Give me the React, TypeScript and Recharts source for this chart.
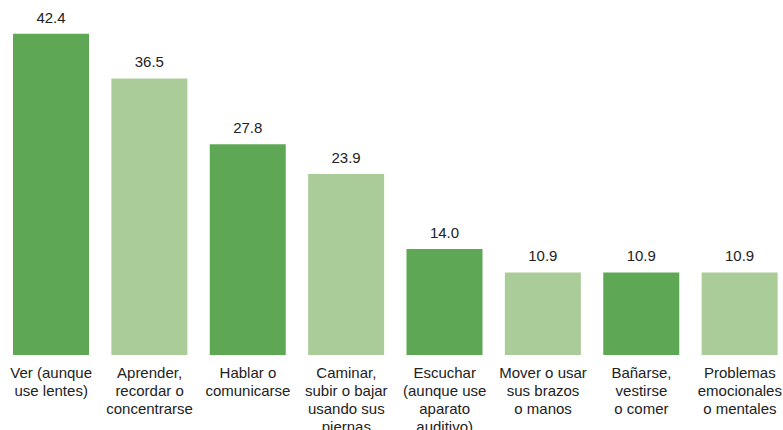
import React from "react";
import { BarChart, Bar, XAxis, YAxis, Cell, LabelList } from "recharts";

const categories: string[] = [
  "Ver (aunque\nuse lentes)",
  "Aprender,\nrecordar o\nconcentrarse",
  "Hablar o\ncomunicarse",
  "Caminar,\nsubir o bajar\nusando sus\npiernas",
  "Escuchar\n(aunque use\naparato\nauditivo)",
  "Mover o usar\nsus brazos\no manos",
  "Bañarse,\nvestirse\no comer",
  "Problemas\nemocionales\no mentales",
];

const values: number[] = [42.4, 36.5, 27.8, 23.9, 14.0, 10.9, 10.9, 10.9];

const colors: string[] = ["#5ea855", "#aacc99"];

const data = categories.map((c, i) => ({ name: c, value: values[i] }));

const FONT = "'Liberation Sans', Arial, sans-serif";

const Tick = (props: any) => {
  const { x, y, payload } = props;
  const lines: string[] = String(payload.value).split("\n");
  return (
    <text x={x} y={y} textAnchor="middle" fontSize={15} fill="#222" fontFamily={FONT}>
      {lines.map((l, i) => (
        <tspan key={i} x={x} dy={i === 0 ? 23 : 18}>
          {l}
        </tspan>
      ))}
    </text>
  );
};

export default function App() {
  return (
    <div
      style={{
        position: "fixed",
        left: 0,
        top: 0,
        width: 783,
        height: 430,
        overflow: "hidden",
        background: "#fff",
      }}
    >
      <BarChart
        width={800}
        height={430}
        data={data}
        margin={{ top: 14, right: 11, left: 2, bottom: 0 }}
        style={{ overflow: "visible" }}
      >
        <XAxis
          dataKey="name"
          tick={<Tick />}
          tickLine={false}
          axisLine={false}
          tickSize={0}
          tickMargin={0}
          height={75}
          interval={0}
        />
        <YAxis hide domain={[0, 45]} />
        <Bar dataKey="value" barSize={76} isAnimationActive={false}>
          {data.map((_, i) => (
            <Cell key={i} fill={colors[i % 2]} />
          ))}
          <LabelList
            dataKey="value"
            position="top"
            offset={11}
            formatter={(v: any) => Number(v).toFixed(1)}
            style={{ fontSize: 15, fill: "#222", fontFamily: FONT }}
          />
        </Bar>
      </BarChart>
    </div>
  );
}
